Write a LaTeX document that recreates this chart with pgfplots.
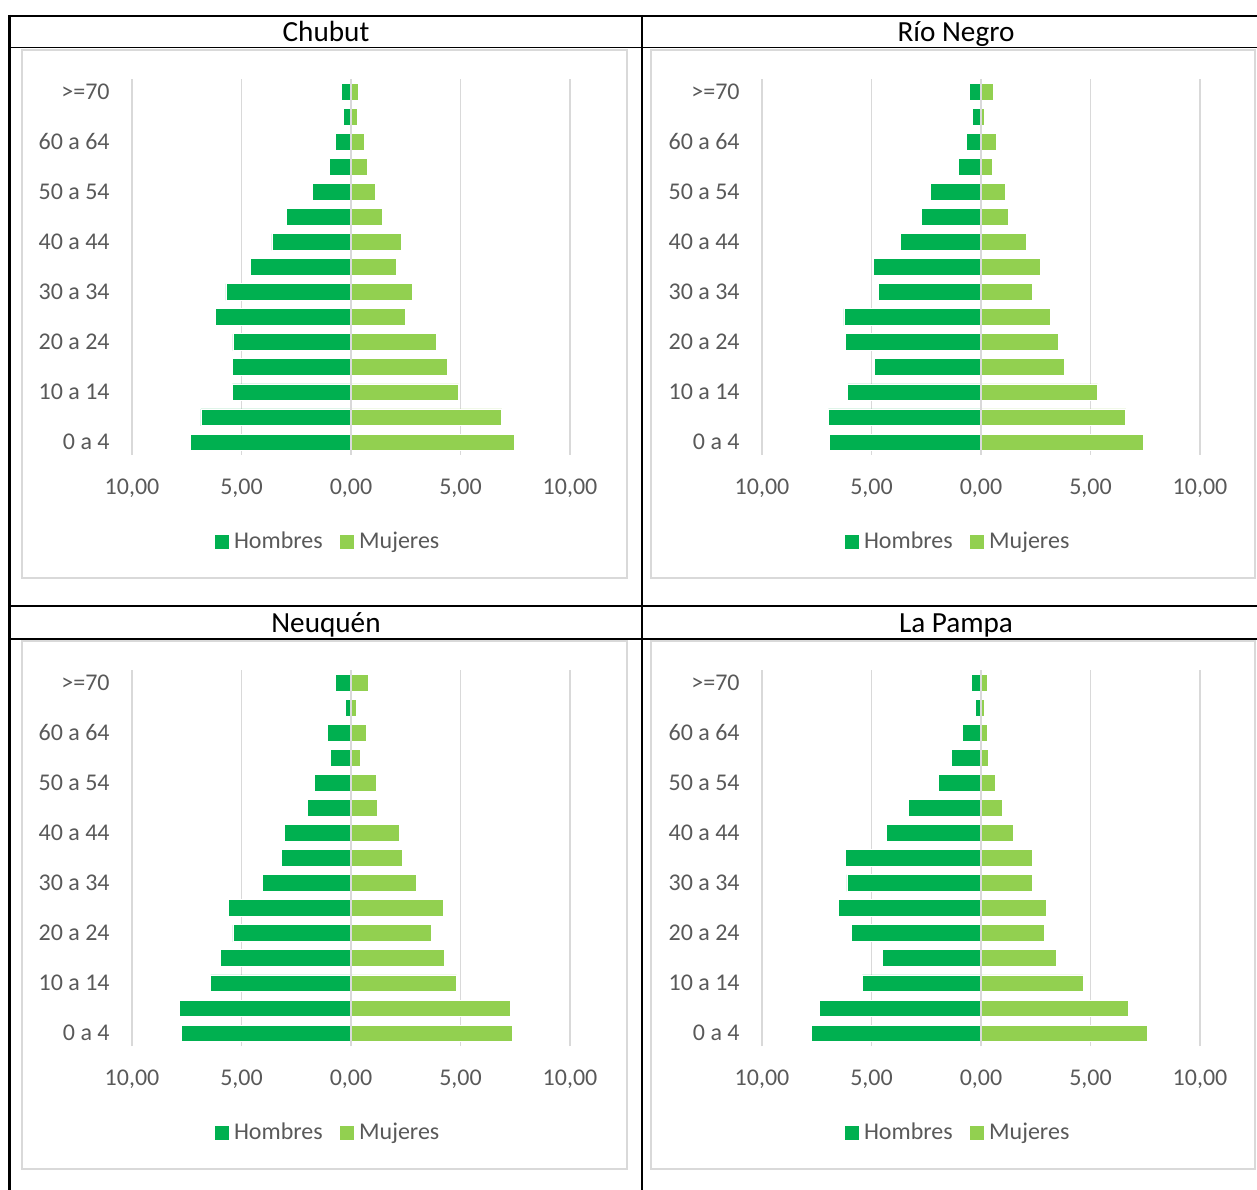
\documentclass[border=0pt]{standalone}
\usepackage{fontspec}
\setmainfont{Carlito}
\usepackage{pgfplots}
\pgfplotsset{compat=1.18}
\usepackage{pgfplotstable}
\definecolor{hom}{HTML}{00B050}
\definecolor{muj}{HTML}{92D050}
\definecolor{gridc}{HTML}{D9D9D9}
\definecolor{txt}{HTML}{595959}

\pgfplotstableread{
pos h m
0 -7.33 7.48
1 -6.85 6.89
2 -5.42 4.91
3 -5.42 4.42
4 -5.39 3.91
5 -6.21 2.50
6 -5.71 2.79
7 -4.59 2.09
8 -3.61 2.29
9 -2.94 1.42
10 -1.77 1.11
11 -1.00 0.73
12 -0.71 0.59
13 -0.36 0.29
14 -0.44 0.36
}\chubut

\pgfplotstableread{
pos h m
0 -6.94 7.42
1 -6.97 6.61
2 -6.08 5.33
3 -4.85 3.79
4 -6.18 3.52
5 -6.26 3.18
6 -4.70 2.33
7 -4.91 2.73
8 -3.67 2.06
9 -2.74 1.23
10 -2.30 1.11
11 -1.02 0.53
12 -0.65 0.70
13 -0.41 0.17
14 -0.52 0.55
}\rionegro

\pgfplotstableread{
pos h m
0 -7.73 7.35
1 -7.82 7.30
2 -6.41 4.82
3 -5.98 4.26
4 -5.39 3.65
5 -5.58 4.20
6 -4.05 2.97
7 -3.18 2.33
8 -3.03 2.20
9 -2.00 1.20
10 -1.68 1.17
11 -0.95 0.41
12 -1.08 0.71
13 -0.26 0.23
14 -0.71 0.80
}\neuquen

\pgfplotstableread{
pos h m
0 -7.74 7.61
1 -7.39 6.71
2 -5.42 4.67
3 -4.50 3.42
4 -5.92 2.91
5 -6.53 3.00
6 -6.12 2.33
7 -6.21 2.33
8 -4.33 1.47
9 -3.30 0.97
10 -1.94 0.67
11 -1.35 0.36
12 -0.83 0.27
13 -0.24 0.14
14 -0.45 0.29
}\lapampa

\pgfplotsset{
  pyr/.style={
    anchor=south west,
    scale only axis, width=219pt, height=188pt,
    xmin=-10, xmax=10, ymin=-0.5, ymax=14.5,
    xtick={-10,-5,0,5,10},
    xticklabels={{10,00},{5,00},{0,00},{5,00},{10,00}},
    ytick={0,2,4,6,8,10,12,14},
    yticklabels={0 a 4,10 a 14,20 a 24,30 a 34,40 a 44,50 a 54,60 a 64,>=70},
    xmajorgrids,
    major grid style={draw=gridc, line width=0.75pt},
    axis line style={draw=none},
    major tick length=0pt,
    tick label style={font=\fontsize{12}{14}\selectfont, text=txt, inner sep=0pt},
    xticklabel style={anchor=base, yshift=-19.75pt},
    yticklabel style={anchor=base east, xshift=-11pt, yshift=-3.75pt},
    title style={at={(0.4429,1.101)}, anchor=base, yshift=-6pt, font=\fontsize{14.6}{17}\selectfont, text=black, inner sep=0pt},
    legend style={draw=none, fill=none, at={(0.4486,-0.2301)}, anchor=center,
      font=\fontsize{12}{14}\selectfont, text=txt, nodes={inner sep=1.25pt},
      /tikz/every even column/.append style={column sep=7.5pt}},
    legend columns=2,
    legend image code/.code={\fill[##1, draw=none] (0pt,-3.5pt) rectangle (7pt,3.5pt); \path (8pt,0pt);},
    bar width=0.67,
  },
  hbar/.style={xbar, bar shift=0pt, fill=hom, draw=white, line width=0.4pt},
  mbar/.style={xbar, bar shift=0pt, fill=muj, draw=white, line width=0.4pt},
}

\begin{document}
\begin{tikzpicture}
\path[use as bounding box] (0pt,0pt) rectangle (628.5pt,594.5pt);
% chart area boxes
\draw[gridc, line width=0.75pt] (11pt,305.5pt) rectangle (313.5pt,569.5pt);
\draw[gridc, line width=0.75pt] (325.5pt,305.5pt) rectangle (627.5pt,569.5pt);
\draw[gridc, line width=0.75pt] (11pt,10pt) rectangle (313.5pt,274pt);
\draw[gridc, line width=0.75pt] (325.5pt,10pt) rectangle (627.5pt,274pt);
% table lines
\draw[black, line width=1pt] (4.25pt,586.5pt) -- (630pt,586.5pt);
\draw[black, line width=0.7pt] (4.25pt,570.6pt) -- (630pt,570.6pt);
\draw[black, line width=1pt] (4.25pt,291.3pt) -- (630pt,291.3pt);
\draw[black, line width=0.7pt] (4.25pt,274.9pt) -- (630pt,274.9pt);
\draw[black, line width=1.1pt] (4.75pt,587pt) -- (4.75pt,-1pt);
\draw[black, line width=1pt] (321pt,587pt) -- (321pt,-1pt);

\begin{axis}[pyr, at={(66pt,367pt)}, title={Chubut}]
\addplot[hbar] table[x=h, y=pos] {\chubut};
\addplot[mbar] table[x=m, y=pos] {\chubut};
\legend{Hombres, Mujeres}
\draw[gridc, line width=0.85pt] (axis cs:0,-0.5) -- (axis cs:0,14.5);
\end{axis}

\begin{axis}[pyr, at={(381pt,367pt)}, title={Río Negro}]
\addplot[hbar] table[x=h, y=pos] {\rionegro};
\addplot[mbar] table[x=m, y=pos] {\rionegro};
\legend{Hombres, Mujeres}
\draw[gridc, line width=0.85pt] (axis cs:0,-0.5) -- (axis cs:0,14.5);
\end{axis}

\begin{axis}[pyr, at={(66pt,71.5pt)}, title={Neuquén}]
\addplot[hbar] table[x=h, y=pos] {\neuquen};
\addplot[mbar] table[x=m, y=pos] {\neuquen};
\legend{Hombres, Mujeres}
\draw[gridc, line width=0.85pt] (axis cs:0,-0.5) -- (axis cs:0,14.5);
\end{axis}

\begin{axis}[pyr, at={(381pt,71.5pt)}, title={La Pampa}]
\addplot[hbar] table[x=h, y=pos] {\lapampa};
\addplot[mbar] table[x=m, y=pos] {\lapampa};
\legend{Hombres, Mujeres}
\draw[gridc, line width=0.85pt] (axis cs:0,-0.5) -- (axis cs:0,14.5);
\end{axis}
\end{tikzpicture}
\end{document}
